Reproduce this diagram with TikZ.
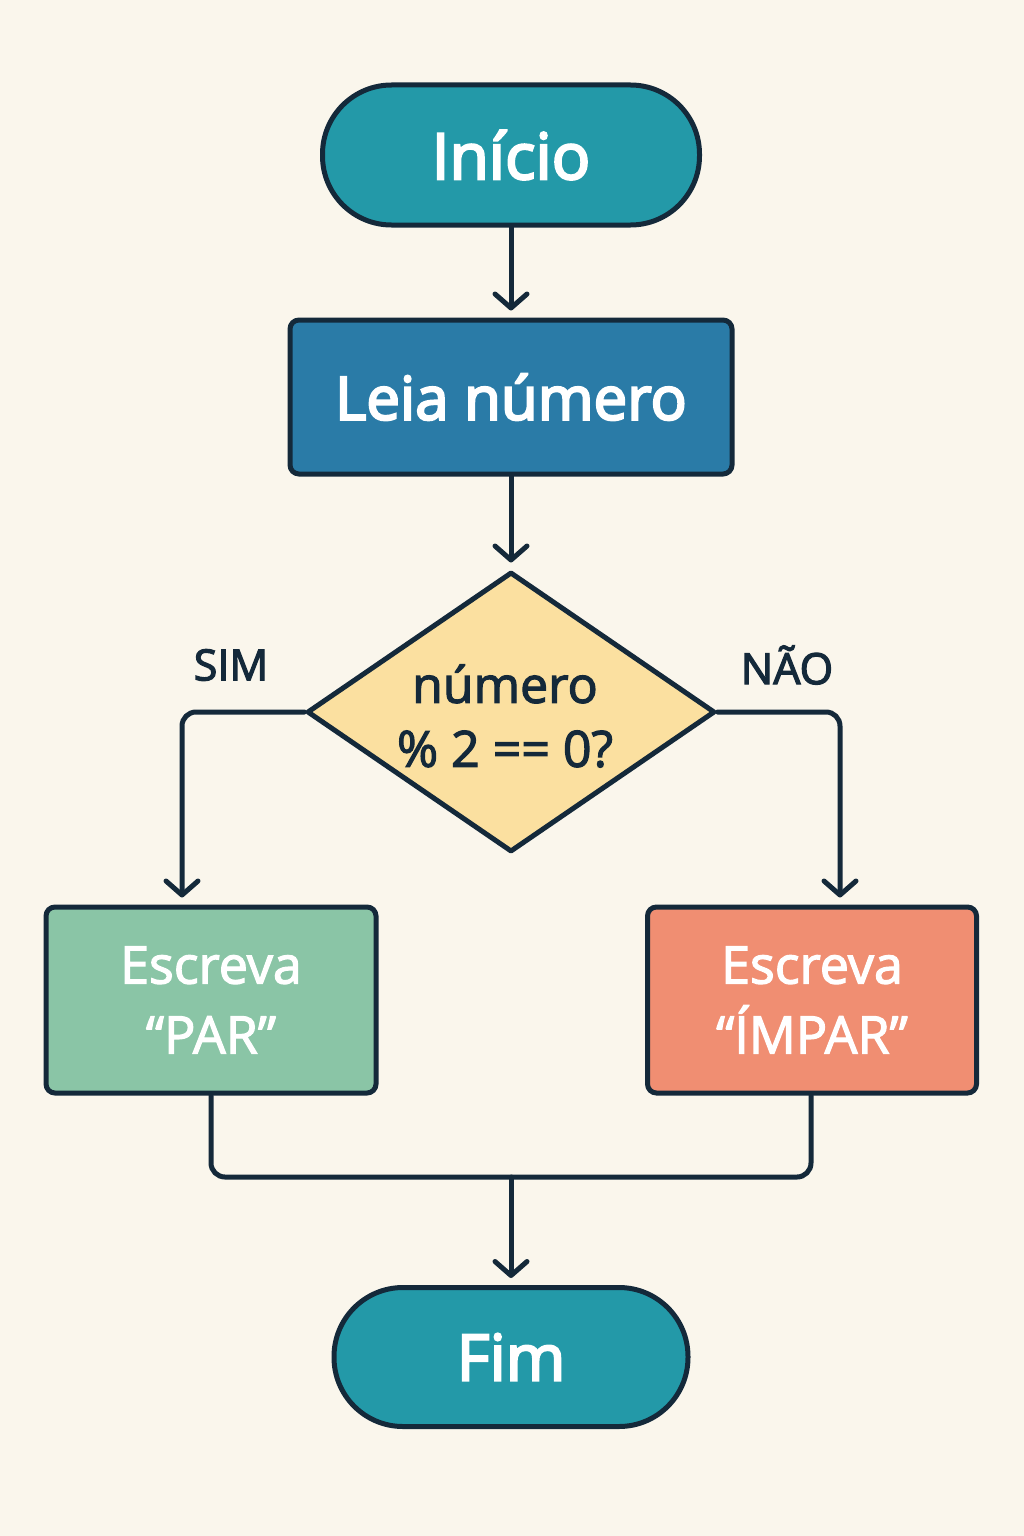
\documentclass[tikz,border=0pt]{standalone}
\usepackage{fontspec}
\setmainfont{Open Sans}
\newcommand\heavy[2]{\special{pdf:literal direct #1 w 2 Tr}#2\special{pdf:literal direct 0 Tr}}
\usetikzlibrary{shapes.geometric,arrows.meta}
\definecolor{bg}{HTML}{FAF6EC}
\definecolor{ink}{HTML}{14293A}
\definecolor{teal}{HTML}{2399A8}
\definecolor{blu}{HTML}{2A7BA7}
\definecolor{yel}{HTML}{FBE0A0}
\definecolor{grn}{HTML}{8AC5A6}
\definecolor{org}{HTML}{F08E72}
\tikzset{
  base/.style={draw=ink, line width=5pt, text=white, align=center, inner sep=0pt},
  term/.style={base, fill=teal, rounded corners=69pt, font=\fontsize{64}{70}\selectfont},
  procbox/.style={base, rounded corners=9pt},
  dec/.style={draw=ink, line width=5pt, fill=yel, diamond, inner sep=0pt, line join=round},
  conn/.style={draw=ink, line width=5pt, line cap=round, line join=round, rounded corners=14pt},
  arr/.style={conn, -{Straight Barb[length=14pt,width=32pt,line cap=round,line join=round]}, shorten >=7pt},
  lbl/.style={text=ink, font=\fontsize{43}{48}\selectfont}
}
\begin{document}
\begin{tikzpicture}[x=1pt,y=-1pt]
\fill[bg] (0,0) rectangle (1024,1536);
\useasboundingbox (0,0) rectangle (1024,1536);

\node[term, minimum width=377pt, minimum height=140pt] (ini) at (511,155) {\heavy{2.2}{Início}};
\node[procbox, fill=blu, minimum width=442pt, minimum height=154pt, font=\fontsize{60}{70}\selectfont] (leia) at (511,397) {\heavy{2.2}{Leia número}};
\node[dec, minimum width=408pt, minimum height=280pt] (d) at (511,712) {};
\node[text=ink, align=center, font=\fontsize{50}{64}\selectfont] (dt) at (505,716) {\heavy{1.2}{número}\\\heavy{1.2}{\% 2 == 0?}};
\node[procbox, fill=grn, minimum width=330pt, minimum height=186pt, font=\fontsize{52}{70}\selectfont] (par) at (211,1000) {\heavy{1.2}{Escreva}\\\heavy{1.2}{“PAR”}};
\node[procbox, fill=org, minimum width=329pt, minimum height=186pt, font=\fontsize{52}{70}\selectfont] (imp) at (812,1000) {\heavy{1.2}{Escreva}\\\heavy{1.2}{“ÍMPAR”}};
\node[term, minimum width=354pt, minimum height=139pt] (fim) at (511,1357) {\heavy{2.2}{Fim}};

\node[lbl] (sim) at (231,665) {\heavy{1.2}{SIM}};
\node[lbl] (nao) at (787,665) {\heavy{1.2}{NÃO}};

\draw[arr] (ini.south) -- (leia.north);
\draw[arr] (leia.south) -- (d.north);
\draw[arr] (d.west) -| ([xshift=-29pt]par.north);
\draw[arr] (d.east) -| ([xshift=28pt]imp.north);
\coordinate (j) at (511,1177);
\draw[conn] (par.south) |- (j) -| ([xshift=-1pt]imp.south);
\draw[arr] (j) -- (fim.north);
\end{tikzpicture}
\end{document}
